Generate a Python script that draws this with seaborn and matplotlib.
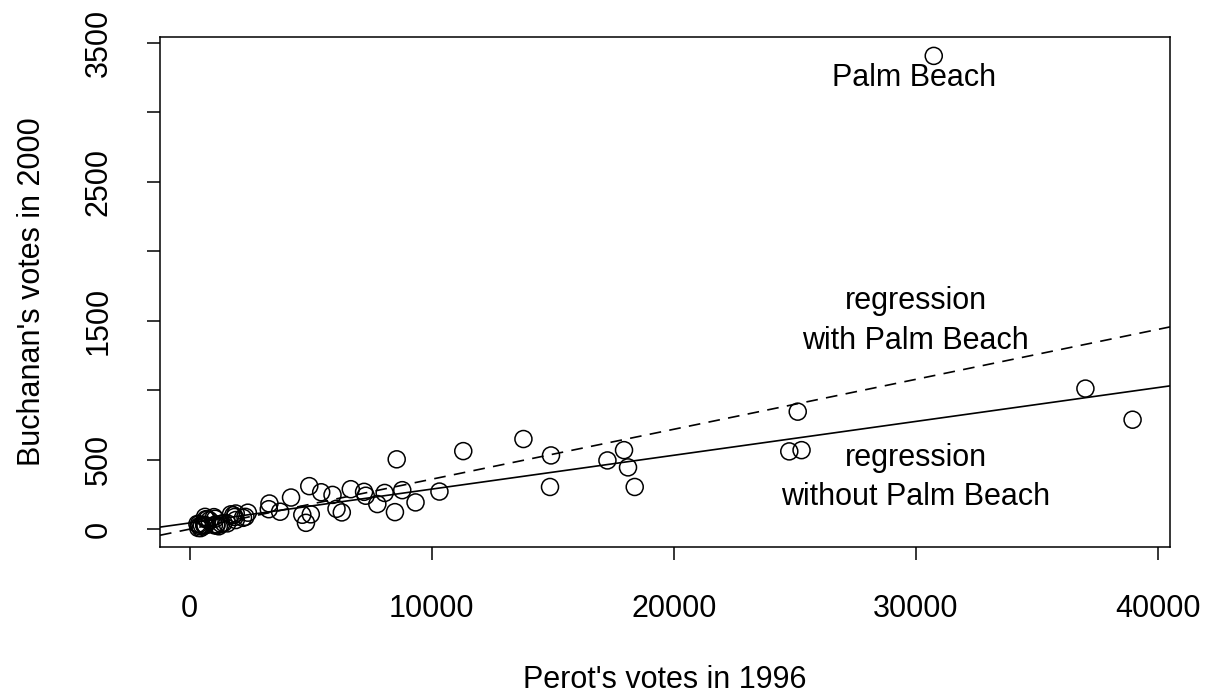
import numpy as np
import pandas as pd
import matplotlib
matplotlib.use("Agg")
import matplotlib.pyplot as plt
import seaborn as sns

# Florida counties: Perot votes (1996) and Buchanan votes (2000)
counties = [
    "Alachua", "Bay", "Brevard", "Broward", "Charlotte", "Citrus", "Clay",
    "Collier", "Dade", "Duval", "Escambia", "Hernando", "Highlands",
    "Hillsborough", "Indian River", "Lake", "Lee", "Leon", "Manatee",
    "Marion", "Martin", "Monroe", "Okaloosa", "Orange", "Osceola",
    "Palm Beach", "Pasco", "Pinellas", "Polk", "Putnam", "St. Johns",
    "St. Lucie", "Santa Rosa", "Sarasota", "Seminole", "Volusia",
    "Baker", "Bradford", "Calhoun", "Columbia", "DeSoto", "Dixie", "Flagler",
    "Franklin", "Gadsden", "Gilchrist", "Glades", "Gulf", "Hamilton",
    "Hardee", "Hendry", "Holmes", "Jackson", "Jefferson", "Lafayette",
    "Levy", "Liberty", "Madison", "Nassau", "Okeechobee", "Sumter",
    "Suwannee", "Taylor", "Union", "Wakulla", "Walton", "Washington",
]
perot_1996 = [
    8053, 5898, 25277, 38954, 7750, 7202, 3292,
    6282, 24770, 13786, 8550, 7270, 3733,
    25119, 4650, 6653, 18384, 8780, 10316,
    11300, 5000, 4801, 5430, 18107, 3265,
    30739, 17942, 37005, 14925, 6063, 4184,
    8477, 4938, 14884, 9328, 17257,
    667, 819, 630, 1853, 1100, 630, 2200,
    600, 1300, 650, 450, 720, 400,
    1000, 1200, 1050, 1800, 500, 350,
    1900, 316, 600, 2300, 1550, 1900,
    1700, 1100, 380, 1400, 2400, 1000,
]
buchanan_2000 = [
    262, 248, 570, 789, 182, 270, 186,
    122, 561, 650, 504, 242, 127,
    847, 105, 289, 305, 282, 272,
    563, 108, 47, 267, 446, 145,
    3407, 570, 1013, 532, 148, 229,
    124, 311, 305, 194, 496,
    73, 65, 90, 89, 36, 29, 83,
    33, 39, 29, 9, 71, 24,
    30, 22, 76, 102, 29, 10,
    67, 39, 29, 90, 43, 114,
    108, 27, 37, 46, 120, 88,
]

x_ticks = [0, 10000, 20000, 30000, 40000]
y_ticks = [0, 500, 1000, 1500, 2000, 2500, 3000, 3500]
y_tick_labels = ["0", "500", "", "1500", "", "2500", "", "3500"]

df = pd.DataFrame({"county": counties, "perot": perot_1996,
                   "buchanan": buchanan_2000})
others = df[df["county"] != "Palm Beach"]
pb = df[df["county"] == "Palm Beach"].iloc[0]

sns.set_style("white")
plt.rcParams["font.family"] = ["Liberation Sans", "DejaVu Sans"]
plt.rcParams.update({"text.color": "black", "axes.labelcolor": "black",
                     "xtick.color": "black", "ytick.color": "black"})
FS = 22

fig = plt.figure(figsize=(12.09, 6.98), dpi=100)
ax = fig.add_axes([160 / 1209, 1 - 547 / 698, 1010 / 1209, 510 / 698])

sns.scatterplot(data=df, x="perot", y="buchanan", ax=ax, marker="o",
                s=150, facecolor="none", edgecolor="black", linewidth=1.1,
                legend=False, zorder=3)

# least-squares fits with and without Palm Beach
b_all, a_all = np.polyfit(df["perot"], df["buchanan"], 1)
b_wo, a_wo = np.polyfit(others["perot"], others["buchanan"], 1)
ax.axline((0, a_all), slope=b_all, color="black", lw=1.2,
          linestyle=(0, (7, 5)))
ax.axline((0, a_wo), slope=b_wo, color="black", lw=1.2)

# axis limits padded by 4% of the data range on each side
xr = df["perot"].max() - df["perot"].min()
yr = df["buchanan"].max() - df["buchanan"].min()
ax.set_xlim(df["perot"].min() - 0.04 * xr, df["perot"].max() + 0.04 * xr)
ax.set_ylim(df["buchanan"].min() - 0.04 * yr, df["buchanan"].max() + 0.04 * yr)

ax.annotate("Palm Beach", (pb["perot"], pb["buchanan"]), xytext=(-14, -16),
            textcoords="offset points", ha="center", va="center",
            fontsize=FS, color="black")
ax.text(30000, 1500, "regression\nwith Palm Beach", ha="center",
        va="center", fontsize=FS, linespacing=1.4, color="black")
ax.text(30000, 372, "regression\nwithout Palm Beach", ha="center",
        va="center", fontsize=FS, linespacing=1.4, color="black")

ax.set_xticks(x_ticks)
ax.set_xticklabels([str(v) for v in x_ticks])
ax.set_yticks(y_ticks)
ax.set_yticklabels(y_tick_labels, rotation=90, va="center")
ax.tick_params(axis="both", direction="out", length=9.5, width=1.1,
               color="black", labelcolor="black", labelsize=FS,
               bottom=True, left=True)
ax.tick_params(axis="x", pad=24)
ax.tick_params(axis="y", pad=24)

for sp in ax.spines.values():
    sp.set_color("black")
    sp.set_linewidth(1.1)
    sp.set_visible(True)

ax.set_xlabel("Perot's votes in 1996", fontsize=FS, labelpad=30,
              color="black")
ax.set_ylabel("Buchanan's votes in 2000", fontsize=FS, labelpad=26,
              color="black")

fig.savefig("out.png", dpi=100)
